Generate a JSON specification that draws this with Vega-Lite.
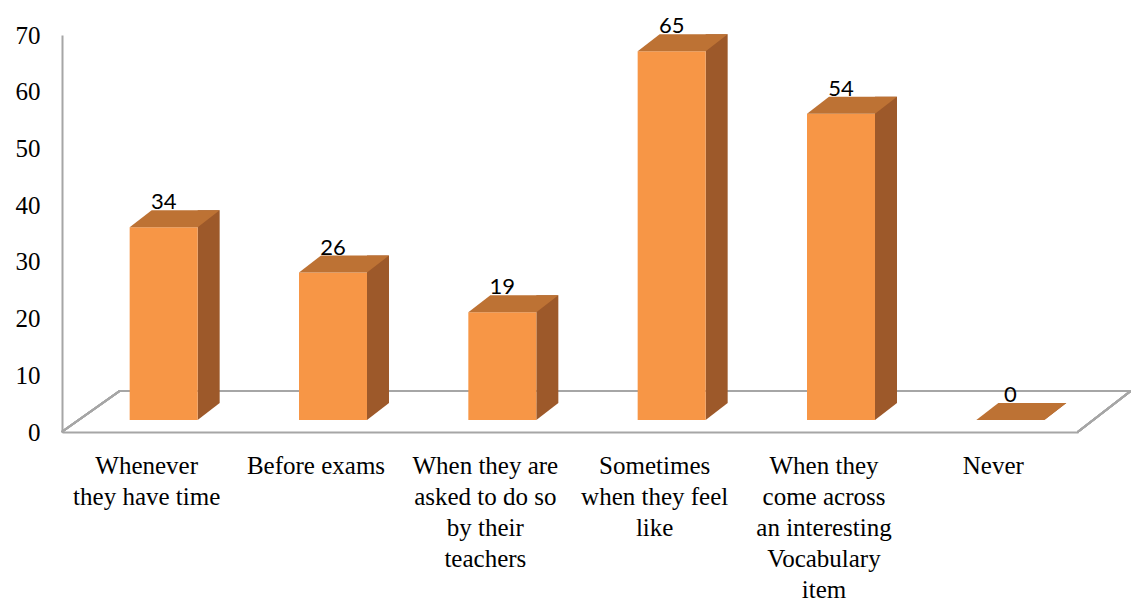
{
  "$schema": "https://vega.github.io/schema/vega-lite/v6.json",
  "width": 1016,
  "height": 397,
  "autosize": {"type": "none"},
  "padding": {"left": 62, "top": 35, "right": 53, "bottom": 169},
  "background": "white",
  "config": {"view": {"stroke": null}},
  "data": {
    "values": [
      {"response": "Whenever they have time", "count": 34},
      {"response": "Before exams", "count": 26},
      {"response": "When they are asked to do so by their teachers", "count": 19},
      {"response": "Sometimes when they feel like", "count": 65},
      {"response": "When they come across an interesting Vocabulary item", "count": 54},
      {"response": "Never", "count": 0}
    ]
  },
  "encoding": {
    "x": {
      "field": "response",
      "type": "nominal",
      "sort": null,
      "scale": {"paddingInner": 0, "paddingOuter": 0},
      "axis": {
        "title": null,
        "labelAngle": 0,
        "ticks": false,
        "domainColor": "#A6A6A6",
        "domainWidth": 2,
        "labelFont": "Liberation Serif",
        "labelFontSize": 25,
        "labelColor": "#000000",
        "labelPadding": 21,
        "labelLineHeight": 31,
        "labelLimit": 300,
        "labelOverlap": false,
        "labelBaseline": "top",
        "labelExpr": "datum.value == 'Whenever they have time' ? ['Whenever', 'they have time'] : datum.value == 'When they are asked to do so by their teachers' ? ['When they are', 'asked to do so', 'by their', 'teachers'] : datum.value == 'Sometimes when they feel like' ? ['Sometimes', 'when they feel', 'like'] : datum.value == 'When they come across an interesting Vocabulary item' ? ['When they', 'come across', 'an interesting', 'Vocabulary', 'item'] : datum.label"
      }
    },
    "y": {
      "field": "count",
      "type": "quantitative",
      "scale": {"domain": [0, 70], "nice": false},
      "axis": {
        "title": null,
        "values": [0, 10, 20, 30, 40, 50, 60, 70],
        "grid": false,
        "ticks": false,
        "domainColor": "#A6A6A6",
        "domainWidth": 2,
        "labelFont": "Liberation Serif",
        "labelFontSize": 25,
        "labelColor": "#000000",
        "labelPadding": 22
      }
    }
  },
  "layer": [
    {
      "mark": {
        "type": "point",
        "shape": "M -85 0 L -27 -41 L 984 -41 L 931 0",
        "size": 4,
        "filled": false,
        "stroke": "#A6A6A6",
        "strokeWidth": 2,
        "opacity": 1
      },
      "encoding": {
        "x": {"datum": "Whenever they have time", "type": "nominal"},
        "y": {"datum": 0, "type": "quantitative"}
      }
    },
    {
      "mark": {
        "type": "bar",
        "width": 22,
        "xOffset": 62,
        "yOffset": -29,
        "y2Offset": -29,
        "color": "#9D592A",
        "opacity": 1
      }
    },
    {
      "mark": {
        "type": "point",
        "shape": "M 51 -29 L 51 -12 L 73 -29 Z",
        "size": 4,
        "filled": true,
        "color": "#9D592A",
        "strokeWidth": 0,
        "opacity": 1
      },
      "encoding": {"y": {"datum": 0, "type": "quantitative"}}
    },
    {
      "mark": {
        "type": "bar",
        "width": 68,
        "xOffset": 17,
        "yOffset": -12,
        "y2Offset": -12,
        "color": "#F79646",
        "opacity": 1
      }
    },
    {
      "mark": {
        "type": "point",
        "shape": "M -17 -12 L 51 -12 L 73 -29 L 5 -29 Z",
        "size": 4,
        "filled": true,
        "color": "#BD7234",
        "strokeWidth": 0,
        "opacity": 1
      }
    },
    {
      "mark": {
        "type": "text",
        "font": "Lato",
        "fontSize": 22,
        "color": "#000000",
        "dx": 17,
        "dy": -37,
        "baseline": "middle",
        "align": "center"
      },
      "encoding": {"text": {"field": "count", "type": "quantitative"}}
    }
  ]
}
